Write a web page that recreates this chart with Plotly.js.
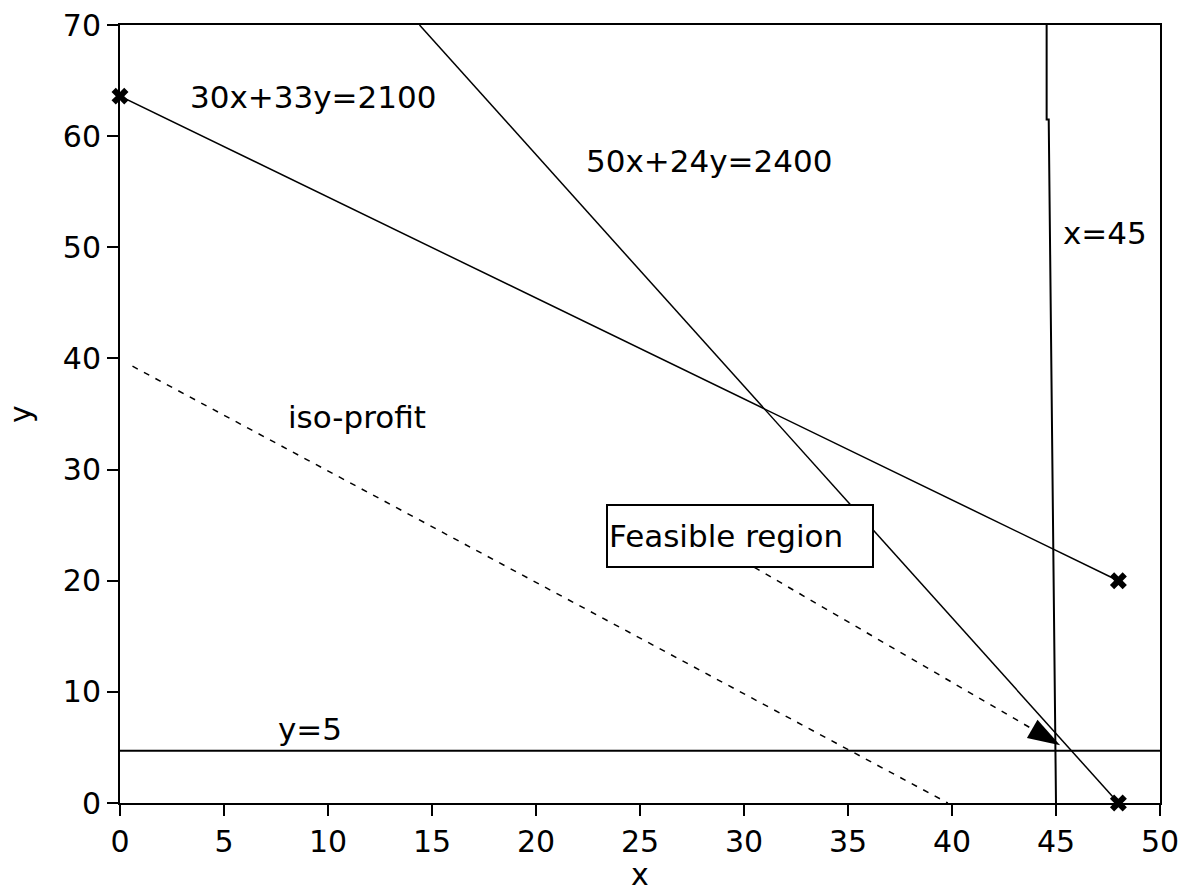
<!DOCTYPE html>
<html>
<head>
<meta charset="utf-8">
<script src="https://cdn.plot.ly/plotly-3.0.1.min.js"></script>
<style>html,body{margin:0;padding:0;background:#fff;}#chart{width:1180px;height:892px;}</style>
</head>
<body>
<div id="chart"></div>
<script>
// Constraint 30x + 33y = 2100
const c1X = [0, 48];
const c1Y = [63.6, 20];
// Constraint 50x + 24y = 2400
const c2X = [14.4, 48];
const c2Y = [70, 0];
// Constraint x = 45 (as drawn)
const c3X = [44.55, 44.55, 44.65, 45.0];
const c3Y = [70, 61.5, 61.5, 0];
// Constraint y = 5 (as drawn)
const c4X = [0, 50];
const c4Y = [4.7, 4.7];
// Iso-profit line
const isoX = [0.6, 39.8];
const isoY = [39.3, 0];
// Shifted iso-profit (arrow towards optimum)
const moveX = [30.5, 45.2];
const moveY = [21.2, 5.2];
// End-point markers
const endX = [0, 48, 48];
const endY = [63.6, 20, 0];
// Axis ticks
const xTicks = [0, 5, 10, 15, 20, 25, 30, 35, 40, 45, 50];
const yTicks = [0, 10, 20, 30, 40, 50, 60, 70];

const FONT = 'DejaVu Sans, Arial, sans-serif';
const solid = {color: 'black', width: 1.5};

const traces = [
  {x: c1X, y: c1Y, mode: 'lines', line: solid, hoverinfo: 'skip'},
  {x: c2X, y: c2Y, mode: 'lines', line: solid, hoverinfo: 'skip'},
  {x: c3X, y: c3Y, mode: 'lines', line: {color: 'black', width: 2}, hoverinfo: 'skip'},
  {x: c4X, y: c4Y, mode: 'lines', line: {color: 'black', width: 2}, hoverinfo: 'skip'},
  {x: isoX, y: isoY, mode: 'lines', line: {color: 'black', width: 1.5, dash: '6px,7px'}, hoverinfo: 'skip'},
  {x: moveX, y: moveY, mode: 'lines+markers', line: {color: 'black', width: 1.5, dash: '6px,7px'},
   marker: {symbol: 'arrow', size: [0, 34], angleref: 'previous', color: 'black', opacity: 1, line: {width: 0}},
   cliponaxis: false, hoverinfo: 'skip'},
  {x: endX, y: endY, mode: 'markers', marker: {symbol: 'x', size: 15, color: 'black', line: {width: 0}},
   cliponaxis: false, hoverinfo: 'skip'}
];

const ann = (text, x, y, extra) => Object.assign({text, x, y, xref: 'x', yref: 'y', showarrow: false,
  font: {family: FONT, size: 31, color: 'black'}}, extra || {});

const layout = {
  width: 1180, height: 892,
  margin: {l: 120, r: 20, t: 25, b: 89},
  paper_bgcolor: 'white', plot_bgcolor: 'white',
  showlegend: false,
  font: {family: FONT, size: 30, color: 'black'},
  xaxis: {
    range: [0, 50], tickvals: xTicks, ticktext: xTicks.map(String),
    ticks: 'outside', ticklen: 11, tickwidth: 2, tickcolor: 'black',
    showline: true, linewidth: 2, linecolor: 'black', mirror: true,
    showgrid: false, zeroline: false, fixedrange: true,
    tickfont: {family: FONT, size: 30, color: 'black'},
    title: {text: 'x', font: {family: FONT, size: 30, color: 'black'}, standoff: 20},
    automargin: false
  },
  yaxis: {
    range: [0, 70], tickvals: yTicks, ticktext: yTicks.map(String),
    ticks: 'outside', ticklen: 11, tickwidth: 2, tickcolor: 'black',
    showline: true, linewidth: 2, linecolor: 'black', mirror: true,
    showgrid: false, zeroline: false, fixedrange: true,
    tickfont: {family: FONT, size: 30, color: 'black'},
    title: {text: 'y', font: {family: FONT, size: 30, color: 'black'}, standoff: 22},
    automargin: false
  },
  annotations: [
    ann('30x+33y=2100', 9.28, 63.5),
    ann('50x+24y=2400', 28.3, 57.8),
    ann('x=45', 47.36, 51.3),
    ann('y=5', 9.13, 6.7),
    ann('iso-profit', 11.4, 34.7),
    ann('Feasible region', 29.83, 24.05, {bgcolor: 'white', bordercolor: 'black', borderwidth: 2,
      width: 262, height: 58, align: 'left', borderpad: 1})
  ]
};

Plotly.newPlot('chart', traces, layout, {displayModeBar: false, staticPlot: true});
</script>
</body>
</html>
